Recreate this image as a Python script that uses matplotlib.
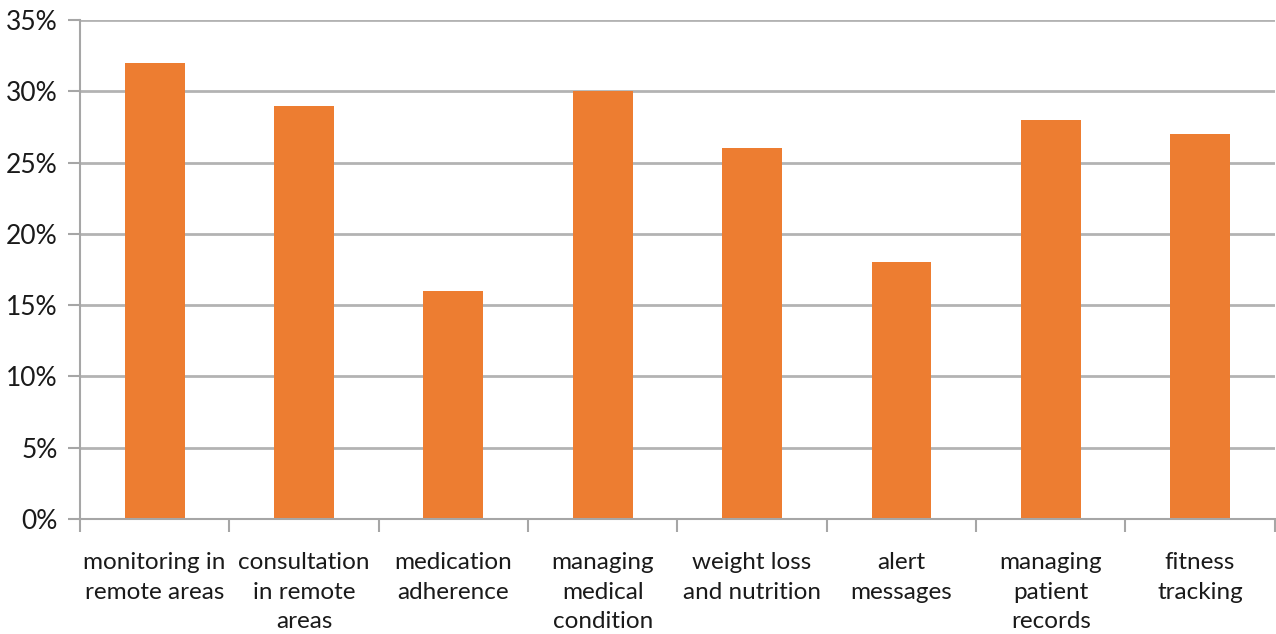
import matplotlib.pyplot as plt
from matplotlib.ticker import FuncFormatter

categories = [
    "monitoring in\nremote areas",
    "consultation\nin remote\nareas",
    "medication\nadherence",
    "managing\nmedical\ncondition",
    "weight loss\nand nutrition",
    "alert\nmessages",
    "managing\npatient\nrecords",
    "fitness\ntracking",
]
shares = [32, 29, 16, 30, 26, 18, 28, 27]

plt.rcParams["font.family"] = ["Lato", "DejaVu Sans"]

fig = plt.figure(figsize=(12.76, 6.34), dpi=100)
ax = fig.add_axes([0.0627, 0.1814, 0.9363, 0.7871])

x = list(range(len(categories)))
ax.bar(x, shares, width=0.4, color="#ED7D31", zorder=3)

ax.set_xlim(-0.5, len(categories) - 0.5)
ax.set_ylim(0, 35)
ax.set_yticks(range(0, 36, 5))
ax.yaxis.set_major_formatter(FuncFormatter(lambda v, _: f"{v:.0f}%"))
ax.grid(axis="y", color="#b3b3b3", linewidth=2, zorder=0)

# category boundary ticks on the x axis, labels centred under bars
ax.set_xticks([i - 0.5 for i in range(len(categories) + 1)])
ax.set_xticklabels([])
ax.set_xticks(x, minor=True)
ax.set_xticklabels(categories, minor=True, fontsize=17.5, color="#1a1a1a",
                   linespacing=1.5, va="top")
ax.tick_params(axis="x", which="minor", length=0, pad=24)
ax.tick_params(axis="x", which="major", length=9, width=1.5, color="#a6a6a6")
ax.tick_params(axis="y", length=9, width=1.5, color="#a6a6a6",
               labelsize=19, labelcolor="#1a1a1a", pad=7)

for side in ("top", "right"):
    ax.spines[side].set_visible(False)
for side in ("left", "bottom"):
    ax.spines[side].set_color("#a6a6a6")
    ax.spines[side].set_linewidth(1.5)
    ax.spines[side].set_zorder(4)

fig.savefig("out.png", dpi=100)
